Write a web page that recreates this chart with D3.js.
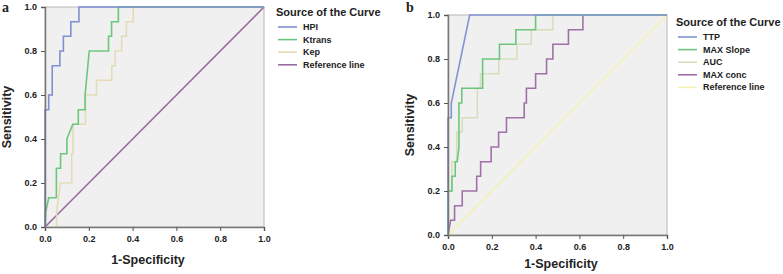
<!DOCTYPE html>
<html>
<head>
<meta charset="utf-8">
<script src="https://cdn.jsdelivr.net/npm/d3@7"></script>
<style>
  body { margin: 0; background: #fff; }
  text { font-family: "Liberation Sans", Arial, sans-serif; font-weight: bold; fill: #222; }
  .letter { font-family: "Liberation Serif", "DejaVu Serif", serif; font-size: 14px; }
</style>
</head>
<body>
<div id="chart"></div>
<script>
// ROC points: [1-specificity, sensitivity]
var hpi = [[0,0],[0,0.533],[0.017,0.533],[0.017,0.6],[0.033,0.6],[0.033,0.733],[0.068,0.733],
  [0.068,0.8],[0.084,0.8],[0.084,0.867],[0.118,0.867],[0.118,0.933],[0.155,0.933],[0.155,1],[1,1]];
var ktrans = [[0,0],[0.003,0.067],[0.017,0.133],[0.052,0.133],[0.052,0.267],[0.071,0.267],[0.071,0.333],
  [0.1,0.333],[0.1,0.4],[0.127,0.467],[0.152,0.467],[0.152,0.533],[0.183,0.533],[0.183,0.6],
  [0.202,0.8],[0.29,0.8],[0.29,0.867],[0.304,0.867],[0.304,0.933],[0.335,0.933],[0.335,1],[1,1]];
var kep = [[0,0],[0.053,0],[0.053,0.067],[0.07,0.2],[0.122,0.2],[0.122,0.333],[0.128,0.333],
  [0.128,0.467],[0.185,0.467],[0.185,0.6],[0.235,0.6],[0.235,0.667],[0.305,0.667],[0.305,0.733],
  [0.32,0.733],[0.32,0.8],[0.35,0.8],[0.35,0.867],[0.372,0.867],[0.372,0.933],[0.403,0.933],[0.403,1],[1,1]];
var refLine = [[0,0],[1,1]];

var ttp = [[0,0],[0,0.533],[0.015,0.533],[0.015,0.6],[0.085,0.933],[0.099,1],[1,1]];
var maxSlope = [[0,0],[0,0.2],[0.018,0.2],[0.018,0.267],[0.033,0.267],[0.033,0.333],[0.042,0.333],
  [0.05,0.4],[0.05,0.6],[0.063,0.6],[0.063,0.667],[0.158,0.667],[0.158,0.8],[0.235,0.8],
  [0.235,0.867],[0.31,0.867],[0.31,0.933],[0.4,0.933],[0.4,1],[1,1]];
var auc = [[0,0],[0,0.2],[0.018,0.2],[0.018,0.333],[0.04,0.333],[0.04,0.467],[0.065,0.467],
  [0.065,0.533],[0.134,0.533],[0.134,0.667],[0.148,0.667],[0.148,0.733],[0.232,0.733],[0.232,0.8],
  [0.315,0.8],[0.315,0.867],[0.38,0.867],[0.38,0.933],[0.479,0.933],[0.479,1],[1,1]];
var maxConc = [[0,0],[0.012,0.067],[0.03,0.067],[0.03,0.133],[0.065,0.133],[0.065,0.2],[0.131,0.2],
  [0.131,0.267],[0.149,0.267],[0.149,0.333],[0.197,0.333],[0.197,0.4],[0.231,0.4],[0.231,0.467],
  [0.267,0.467],[0.267,0.533],[0.348,0.533],[0.348,0.6],[0.358,0.6],[0.358,0.667],[0.4,0.667],
  [0.4,0.733],[0.45,0.733],[0.45,0.8],[0.479,0.8],[0.479,0.867],[0.55,0.867],[0.55,0.933],
  [0.616,0.933],[0.616,1],[1,1]];

var ticks = [0, 0.2, 0.4, 0.6, 0.8, 1.0];
var legendTitle = "Source of the Curve";

var panelA = {
  letter: "a", x0: 45, x1: 264, y0: 7, y1: 227,
  series: [
    {name: "HPI", data: hpi, color: "#7f8fd2"},
    {name: "Ktrans", data: ktrans, color: "#6cc77c"},
    {name: "Kep", data: kep, color: "#e4dcb6"},
    {name: "Reference line", data: refLine, color: "#9a6a9e"}
  ],
  legendX: 276, legendY: 16, xTitleX: 148, xTitleY: 264, yTitleX: 11, letterX: 2, letterY: 12
};
var panelB = {
  letter: "b", x0: 448, x1: 667, y0: 15, y1: 235,
  series: [
    {name: "TTP", data: ttp, color: "#8294d4"},
    {name: "MAX Slope", data: maxSlope, color: "#6cc77c"},
    {name: "AUC", data: auc, color: "#d6dfbc"},
    {name: "MAX conc", data: maxConc, color: "#a070a8"},
    {name: "Reference line", data: refLine, color: "#f3f2b4"}
  ],
  legendX: 676, legendY: 26, xTitleX: 561, xTitleY: 268, yTitleX: 414, letterX: 406, letterY: 12
};

var svg = d3.select("#chart").append("svg")
  .attr("width", 783)
  .attr("height", 274);

function drawPanel(p) {
  var xScale = d3.scaleLinear().domain([0, 1]).range([p.x0, p.x1]);
  var yScale = d3.scaleLinear().domain([0, 1]).range([p.y1, p.y0]);

  var g = svg.append("g");

  // plot background and frame
  g.append("rect")
    .attr("x", p.x0).attr("y", p.y0)
    .attr("width", p.x1 - p.x0).attr("height", p.y1 - p.y0)
    .attr("fill", "#f0f0f0")
    .attr("stroke", "#b8b8b8");

  var line = d3.line()
    .x(function(d) { return xScale(d[0]); })
    .y(function(d) { return yScale(d[1]); });

  // draw reference line first, curves on top
  var order = p.series.slice().reverse();
  order.forEach(function(s) {
    g.append("path")
      .datum(s.data)
      .attr("fill", "none")
      .attr("stroke", s.color)
      .attr("stroke-width", 1.6)
      .attr("d", line);
  });

  var xAxis = g.append("g")
    .attr("transform", "translate(0," + p.y1 + ")")
    .call(d3.axisBottom(xScale).tickValues(ticks).tickFormat(d3.format(".1f")).tickSize(4).tickPadding(5));
  var yAxis = g.append("g")
    .attr("transform", "translate(" + p.x0 + ",0)")
    .call(d3.axisLeft(yScale).tickValues(ticks).tickFormat(d3.format(".1f")).tickSize(4).tickPadding(4));

  [xAxis, yAxis].forEach(function(a) {
    a.select(".domain").attr("stroke", "#777").attr("stroke-width", 1.5);
    a.selectAll(".tick line").attr("stroke", "#555");
    a.selectAll(".tick text").attr("font-size", 9).attr("fill", "#222")
      .attr("font-family", "Liberation Sans, Arial, sans-serif").attr("font-weight", "bold");
  });

  g.append("text")
    .attr("x", p.xTitleX).attr("y", p.xTitleY)
    .attr("text-anchor", "middle")
    .attr("font-size", 12.5)
    .text("1-Specificity");

  g.append("text")
    .attr("transform", "translate(" + p.yTitleX + "," + ((p.y0 + p.y1) / 2) + ") rotate(-90)")
    .attr("text-anchor", "middle")
    .attr("font-size", 12.5)
    .text("Sensitivity");

  g.append("text")
    .attr("class", "letter")
    .attr("x", p.letterX).attr("y", p.letterY)
    .text(p.letter);

  // legend
  var leg = g.append("g").attr("transform", "translate(" + p.legendX + "," + p.legendY + ")");
  leg.append("text").attr("x", 0).attr("y", 0).attr("font-size", 11).text(legendTitle);
  p.series.forEach(function(s, i) {
    var yy = 14 + i * 12.6;
    leg.append("line")
      .attr("x1", 2).attr("x2", 21)
      .attr("y1", yy - 3).attr("y2", yy - 3)
      .attr("stroke", s.color).attr("stroke-width", 1.6);
    leg.append("text")
      .attr("x", 27).attr("y", yy)
      .attr("font-size", 9)
      .text(s.name);
  });
}

drawPanel(panelA);
drawPanel(panelB);
</script>
</body>
</html>
